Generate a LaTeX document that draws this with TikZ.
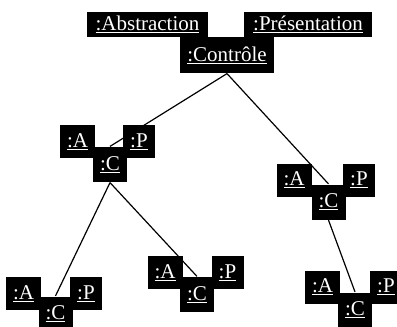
\documentclass[tikz,border=0pt]{standalone}
\usepackage{fontspec}
\setmainfont{Liberation Serif}
\usepackage{tikz}
\usetikzlibrary{positioning}

\begin{document}
\begin{tikzpicture}[x=1pt,y=-1pt,line width=1.2pt,
  objet/.style={rectangle,fill=black,text=white,inner sep=0pt,
                font=\fontsize{21}{24}\selectfont},
  abox/.style={objet,minimum width=35pt,minimum height=33pt},
  cbox/.style={objet,minimum width=34pt,minimum height=35pt},
  pbox/.style={objet,minimum width=32pt,minimum height=33pt}]
\useasboundingbox (0,0) rectangle (397,327);

\node at (147.5,24) [objet,minimum width=121pt,minimum height=25pt] (abs) {\underline{:Abstraction}};
\node at (308,24) [objet,minimum width=128pt,minimum height=25pt] (pres) {\underline{:Présentation}};
\node at (227,55) [objet,minimum width=94pt,minimum height=36pt] (ctrl) {\underline{:Contrôle}};

\node at (77.5,141.5) [abox] (a1) {\underline{:A}};
\node at (139,141.5) [pbox] (p1) {\underline{:P}};
\node at (110,164.5) [cbox] (c1) {\underline{:C}};

\node at (294,180) [abox] (a2) {\underline{:A}};
\node at (359,180) [pbox] (p2) {\underline{:P}};
\node at (328.5,202) [cbox] (c2) {\underline{:C}};

\node at (23.5,293.5) [abox] (a11) {\underline{:A}};
\node at (86,293.5) [pbox] (p11) {\underline{:P}};
\node at (55.5,314) [cbox] (c11) {\underline{:C}};

\node at (165,272.5) [abox] (a12) {\underline{:A}};
\node at (227.5,272.5) [pbox] (p12) {\underline{:P}};
\node at (197,294.5) [cbox] (c12) {\underline{:C}};

\node at (322.5,287) [abox] (a21) {\underline{:A}};
\node at (386,287) [pbox] (p21) {\underline{:P}};
\node at (355,310) [cbox] (c21) {\underline{:C}};

\draw (ctrl.south) -- (c1.north);
\draw (ctrl.south) -- (c2.north);
\draw (c1.south) -- (c11.north);
\draw (c1.south) -- (c12.north);
\draw (c2.south) -- (c21.north);
\end{tikzpicture}
\end{document}
